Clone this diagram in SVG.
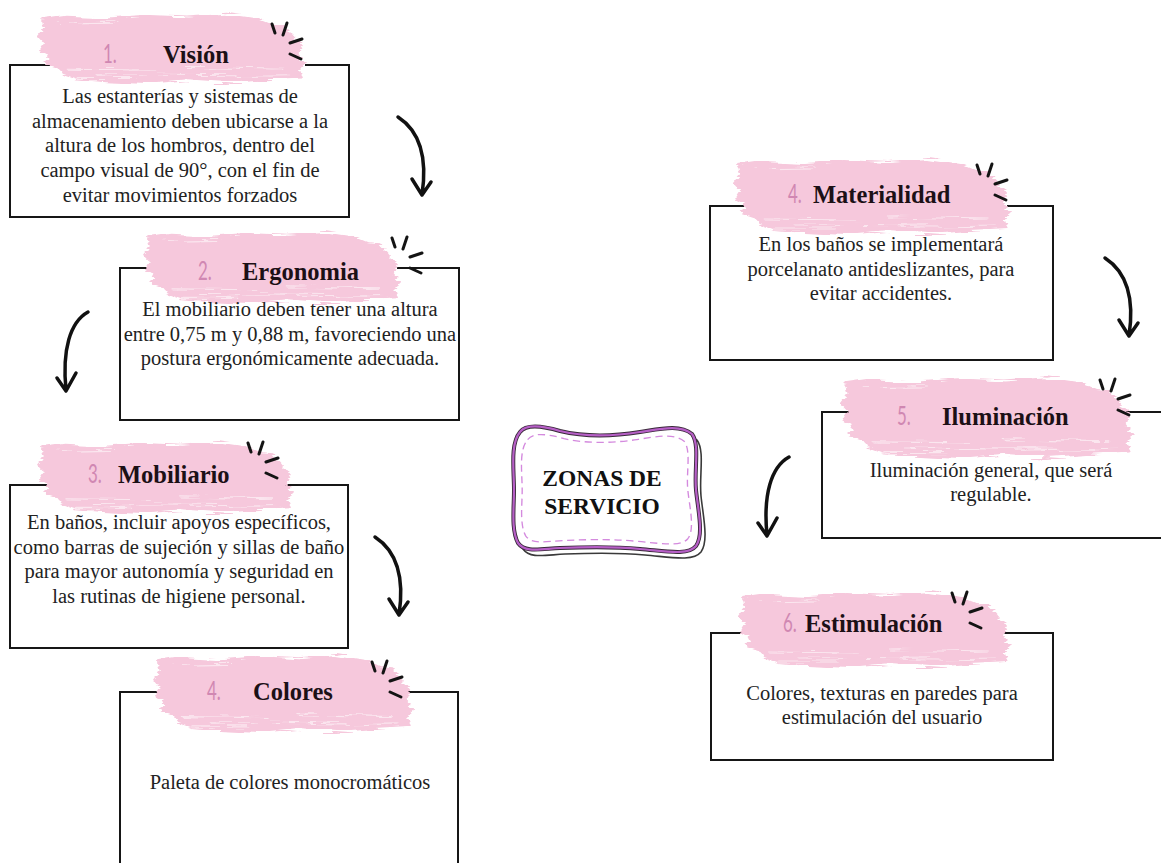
<svg xmlns="http://www.w3.org/2000/svg" xmlns:xlink="http://www.w3.org/1999/xlink" width="1161" height="863" viewBox="0 0 1161 863">
<style>
.box{fill:none;stroke:#161616;stroke-width:2}
.body{font-family:"Liberation Serif","Times New Roman",serif;font-size:20.5px;fill:#222;text-anchor:middle}
.title{font-family:"Liberation Serif","Times New Roman",serif;font-size:24.5px;font-weight:bold;fill:#1c1016}
.num{font-family:Lato,"Open Sans","DejaVu Sans",sans-serif;font-size:26px;font-weight:400;fill:#d087b2}
.brush{fill:#f6c8dc}
.streak{fill:none;stroke:#ffffff;stroke-opacity:0.55;stroke-width:1.2}
.spark{fill:none;stroke:#141414;stroke-width:3;stroke-linecap:round}
.arrow{fill:none;stroke:#111;stroke-width:3.5;stroke-linecap:round;stroke-linejoin:round}
.badge-t{font-family:"Liberation Serif","Times New Roman",serif;font-size:23.5px;font-weight:bold;fill:#111;text-anchor:middle}
</style>
<defs>
<filter id="rough" x="-5%" y="-15%" width="110%" height="130%">
<feTurbulence type="fractalNoise" baseFrequency="0.03 0.35" numOctaves="2" seed="4" result="n"/>
<feDisplacementMap in="SourceGraphic" in2="n" scale="9" xChannelSelector="R" yChannelSelector="G"/>
</filter>
<g id="brush">
<path class="brush" d="M3,8 L30,4 L70,6 L110,3 L150,5 L190,2 L222,7 L236,13 L248,14 L255,22 L261,29 L268,38 L263,46 L270,55 L265,63 L268,72 L230,74 L190,77 L150,74 L110,78 L70,76 L40,73 L26,68 L20,60 L8,56 L12,48 L2,42 L7,34 L0,26 L6,18 Z"/>
<path class="streak" d="M30,62 L120,63 M60,68 L200,69 M150,60 L250,62 M40,72 L100,72 M20,12 L80,11 M200,70 L255,69"/>
</g>
<g id="spark">
<path d="M0,0 L3,9 M11,11 L15,-1 M18,19 L30,15 M18,30 L29,35"/>
</g>
<g id="arrowR">
<path d="M398,117 C418,130 428,155 422,195 M412,179 L422,195 L431,182"/>
</g>
<g id="arrowL">
<path d="M88,312 C70,322 62,350 66,390 M57,378 L66,391 L76,373"/>
</g>
<path id="blob" d="M520,432 C526,424 540,425 560,431 C585,437 615,436 640,432 C660,429 680,424 692,434 C700,445 694,470 696,490 C698,510 704,535 696,546 C688,556 665,551 640,549 C610,546 585,547 560,548 C540,549 525,553 518,543 C511,530 514,508 514,490 C514,470 510,444 520,432 Z"/>
</defs>
<rect width="1161" height="863" fill="#ffffff"/>

<g id="card1">
<path class="box" d="M53,65 L10,65 L10,217 L349,217 L349,65 L305,65"/>
<use href="#brush" filter="url(#rough)" transform="translate(37,12) scale(0.993,0.923)"/>
<use href="#spark" class="spark" transform="translate(272,24)"/>
<text class="num" transform="translate(103,63) scale(0.65,1)">1.</text>
<text class="title" x="163" y="63">Visión</text>
<text class="body" x="180" y="103">Las estanterías y sistemas de</text>
<text class="body" x="180" y="128">almacenamiento deben ubicarse a la</text>
<text class="body" x="180" y="152">altura de los hombros, dentro del</text>
<text class="body" x="180" y="177">campo visual de 90°, con el fin de</text>
<text class="body" x="180" y="202">evitar movimientos forzados</text>
</g>

<g id="card2">
<path class="box" d="M185,268 L120,268 L120,420 L459,420 L459,268 L397,268"/>
<use href="#brush" filter="url(#rough)" transform="translate(143,230) scale(0.952,0.949)"/>
<use href="#spark" class="spark" transform="translate(392,238)"/>
<text class="num" transform="translate(198,280) scale(0.65,1)">2.</text>
<text class="title" x="242" y="280">Ergonomia</text>
<text class="body" x="290" y="316">El mobiliario deben tener una altura</text>
<text class="body" x="290" y="341">entre 0,75 m y 0,88 m, favoreciendo una</text>
<text class="body" x="290" y="365">postura ergonómicamente adecuada.</text>
</g>

<g id="card3">
<path class="box" d="M53,485 L10,485 L10,648 L348,648 L348,485 L282,485"/>
<use href="#brush" filter="url(#rough)" transform="translate(37,440) scale(0.948,0.949)"/>
<use href="#spark" class="spark" transform="translate(248,443)"/>
<text class="num" transform="translate(88,483) scale(0.65,1)">3.</text>
<text class="title" x="118" y="483">Mobiliario</text>
<text class="body" x="179" y="529">En baños, incluir apoyos específicos,</text>
<text class="body" x="179" y="554">como barras de sujeción y sillas de baño</text>
<text class="body" x="179" y="578">para mayor autonomía y seguridad en</text>
<text class="body" x="179" y="603">las rutinas de higiene personal.</text>
</g>

<g id="card4">
<path class="box" d="M192,692 L120,692 L120,870 M458,870 L458,692 L400,692"/>
<use href="#brush" filter="url(#rough)" transform="translate(153,653) scale(0.963,1.026)"/>
<use href="#spark" class="spark" transform="translate(372,662)"/>
<text class="num" transform="translate(207,700) scale(0.65,1)">4.</text>
<text class="title" x="253" y="700">Colores</text>
<text class="body" x="290" y="789">Paleta de colores monocromáticos</text>
</g>

<g id="card-materialidad">
<path class="box" d="M752,206 L710,206 L710,360 L1053,360 L1053,206 L1007,206"/>
<use href="#brush" filter="url(#rough)" transform="translate(733,157) scale(1.026,1)"/>
<use href="#spark" class="spark" transform="translate(977,165)"/>
<text class="num" transform="translate(788,203) scale(0.65,1)">4.</text>
<text class="title" x="813" y="203">Materialidad</text>
<text class="body" x="881" y="251">En los baños se implementará</text>
<text class="body" x="881" y="276">porcelanato antideslizantes, para</text>
<text class="body" x="881" y="300">evitar accidentes.</text>
</g>

<g id="card5">
<path class="box" d="M883,412 L822,412 L822,538 L1161,538 M1161,412 L1105,412"/>
<use href="#brush" filter="url(#rough)" transform="translate(840,375) scale(1.085,1.077)"/>
<use href="#spark" class="spark" transform="translate(1100,380)"/>
<text class="num" transform="translate(897,425) scale(0.65,1)">5.</text>
<text class="title" x="942" y="425">Iluminación</text>
<text class="body" x="991" y="477">Iluminación general, que será</text>
<text class="body" x="991" y="501">regulable.</text>
</g>

<g id="card6">
<path class="box" d="M755,633 L711,633 L711,760 L1053,760 L1053,633 L987,633"/>
<use href="#brush" filter="url(#rough)" transform="translate(738,590) scale(1.007,1)"/>
<use href="#spark" class="spark" transform="translate(952,593)"/>
<text class="num" transform="translate(783,632) scale(0.65,1)">6.</text>
<text class="title" x="805" y="632">Estimulación</text>
<text class="body" x="882" y="700">Colores, texturas en paredes para</text>
<text class="body" x="882" y="724">estimulación del usuario</text>
</g>

<g id="center-badge">
<use href="#blob" transform="translate(5,6)" fill="#fff" stroke="#3a3a3a" stroke-width="1.6"/>
<use href="#blob" fill="#fff" stroke="#3a2a3a" stroke-width="4"/>
<use href="#blob" fill="none" stroke="#b65fc6" stroke-width="2.2"/>
<use href="#blob" fill="none" stroke="#d48ade" stroke-width="1.5" stroke-dasharray="8 5" transform="translate(605,490) scale(0.91,0.87) translate(-605,-490)"/>
<text class="badge-t" x="602" y="486">ZONAS DE</text>
<text class="badge-t" x="602" y="514">SERVICIO</text>
</g>

<g id="connectors" class="arrow">
<use href="#arrowR"/>
<use href="#arrowL"/>
<use href="#arrowR" transform="translate(-23,420)"/>
<use href="#arrowR" transform="translate(707,141)"/>
<use href="#arrowL" transform="translate(701,145)"/>
</g>
</svg>
